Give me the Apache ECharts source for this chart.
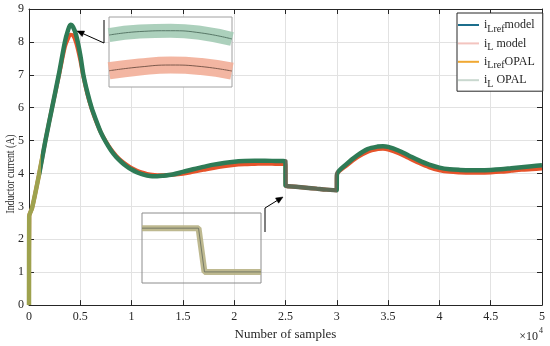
<!DOCTYPE html>
<html><head><meta charset="utf-8">
<style>html,body{margin:0;padding:0;background:#fff}#c{width:550px;height:346px}</style>
<script src="https://cdn.jsdelivr.net/npm/echarts@6/dist/echarts.min.js"></script>
</head><body><div id="c"></div>
<script>
// ---- data ----
const samples = [0,20,300,1000,1600,2250,2900,3500,3800,4050,
  4300,4600,5000,5300,5700,6100,6500,7000,7500,8000,
  8500,9000,9500,10000,10500,11000,11500,12000,12500,13000,
  14000,15000,16000,17000,18000,19000,20000,21000,22000,23000,
  24000,24990,25010,26000,27000,28000,29000,29990,30010,31000,
  32000,33000,34000,34500,35000,36000,37000,38000,39000,40000,
  41000,42000,43000,44000,45000,46000,47000,48000,49000,50000];
const upperCurve = [0,2.7,2.95,4.0,5.0,6.0,7.0,8.0,8.35,8.52,
  8.45,8.2,7.6,7.0,6.45,6.0,5.65,5.25,4.95,4.7,
  4.5,4.35,4.22,4.12,4.04,3.98,3.94,3.92,3.92,3.93,
  3.97,4.05,4.13,4.2,4.27,4.32,4.36,4.38,4.39,4.39,
  4.38,4.37,3.63,3.6,3.57,3.54,3.51,3.49,3.97,4.3,
  4.55,4.74,4.82,4.83,4.81,4.7,4.55,4.4,4.27,4.18,
  4.13,4.11,4.1,4.1,4.11,4.13,4.16,4.19,4.22,4.25];
const lowerCurve = [0,2.7,2.95,4.0,5.0,6.0,6.95,7.85,8.1,8.22,
  8.2,7.97,7.45,6.95,6.4,5.97,5.62,5.25,4.97,4.73,
  4.54,4.39,4.27,4.17,4.09,4.03,3.99,3.96,3.95,3.95,
  3.96,3.99,4.05,4.11,4.17,4.22,4.26,4.28,4.29,4.3,
  4.29,4.28,3.63,3.6,3.57,3.54,3.51,3.49,3.95,4.25,
  4.49,4.66,4.74,4.75,4.73,4.62,4.47,4.32,4.19,4.1,
  4.05,4.03,4.02,4.02,4.03,4.05,4.08,4.11,4.13,4.15];
const inset1Samples = [3950,4025,4100,4175,4250];
const inset1Upper = [8.421,8.446,8.452,8.436,8.393];
const inset1Lower = [8.166,8.193,8.207,8.196,8.164];
const inset2Samples = [24900,24995,25005,25100];
const inset2Values = [4.34,4.34,3.59,3.59];
const xTicks = {min:0, max:50000, interval:5000};
const yTicks = {min:0, max:9, interval:1};
const legendNames = ['iLref model','iL model','iLref OPAL','iL OPAL'];

const zip = (xs, ys) => xs.map((x,i) => [x, ys[i]]);
const F = "'Liberation Serif','Times New Roman',serif";
const AX = '#262626';

const chart = echarts.init(document.getElementById('c'), null, {renderer:'canvas'});

const mainX = {
  type:'value', gridIndex:0, min:xTicks.min, max:xTicks.max, interval:xTicks.interval,
  axisLine:{show:true, onZero:false, lineStyle:{color:AX, width:1}},
  axisTick:{show:true, inside:true, length:5, lineStyle:{color:AX}},
  axisLabel:{color:AX, fontFamily:F, fontSize:12, margin:6, formatter:v => String(v/10000)},
  splitLine:{show:true, lineStyle:{color:'#e2e2e2', width:1}},
  name:'Number of samples', nameLocation:'middle', nameGap:21,
  nameTextStyle:{color:AX, fontFamily:F, fontSize:13}
};
const topX = {
  type:'value', gridIndex:0, position:'top', min:xTicks.min, max:xTicks.max, interval:xTicks.interval,
  axisLine:{show:true, onZero:false, lineStyle:{color:AX, width:1}},
  axisTick:{show:true, inside:true, length:5, lineStyle:{color:AX}},
  axisLabel:{show:false}, splitLine:{show:false}
};
const mainY = {
  type:'value', gridIndex:0, min:yTicks.min, max:yTicks.max, interval:yTicks.interval,
  axisLine:{show:true, onZero:false, lineStyle:{color:AX, width:1}},
  axisTick:{show:true, inside:true, length:5, lineStyle:{color:AX}},
  axisLabel:{color:AX, fontFamily:F, fontSize:12, margin:5},
  splitLine:{show:true, lineStyle:{color:'#e2e2e2', width:1}}
};
const rightY = {
  type:'value', gridIndex:0, position:'right', min:yTicks.min, max:yTicks.max, interval:yTicks.interval,
  axisLine:{show:true, onZero:false, lineStyle:{color:AX, width:1}},
  axisTick:{show:true, inside:true, length:5, lineStyle:{color:AX}},
  axisLabel:{show:false}, splitLine:{show:false}
};
const hidden = (gi, min, max) => ({type:'value', gridIndex:gi, min, max, show:false,
  axisLine:{show:false}, axisTick:{show:false}, axisLabel:{show:false}, splitLine:{show:false}});

const lineBase = {type:'line', showSymbol:false, symbol:'none', smooth:0.3, animation:false, sampling:null};

const rich = {
  i:{fontFamily:F, fontSize:12, lineHeight:16, color:AX},
  t:{fontFamily:F, fontSize:12, lineHeight:16, color:AX},
  s:{fontFamily:F, fontSize:10, lineHeight:10, padding:[8,0,0,0], color:AX}
};
const fmt = {
  'iLref model':'{i|i}{s|Lref}{t|model}',
  'iL model':'{i|i}{s|L}{t| model}',
  'iLref OPAL':'{i|i}{s|Lref}{t|OPAL}',
  'iL OPAL':'{i|i}{s|L}{t| OPAL}'
};
const legendColors = ['#1c6e8c','#f3c4bf','#f0a832','#c9d8cf'];

function arrow(pts, tip, base1, base2){
  return [
    {type:'polyline', shape:{points:pts}, style:{stroke:'#000', lineWidth:1, fill:null}, z:20},
    {type:'polygon', shape:{points:[tip, base1, base2]}, style:{fill:'#000', stroke:'#000', lineWidth:0.5}, z:20}
  ];
}

const option = {
  animation:false,
  backgroundColor:'#fff',
  grid:[
    {left:29, right:8, top:9, bottom:40, show:false},
    {left:109, top:17, width:123, height:70, show:true, backgroundColor:'#fff', borderColor:'#a0a0a0', borderWidth:1, z:3},
    {left:142, top:213, width:119, height:70, show:true, backgroundColor:'transparent', borderColor:'#8c8c8c', borderWidth:1, z:3}
  ],
  xAxis:[mainX, topX, hidden(1, inset1Samples[0], inset1Samples[inset1Samples.length-1]), hidden(2, inset2Samples[0], inset2Samples[inset2Samples.length-1])],
  yAxis:[mainY, rightY, hidden(1, 8.05, 8.55), hidden(2, 3.4, 4.6)],
  visualMap:{
    type:'piecewise', show:false, dimension:0, seriesIndex:3,
    pieces:[
      {lt:1200, color:'#9ea24e'},
      {gte:1200, lt:25000, color:'#2e7b56'},
      {gte:25000, lte:30000, color:'#5e6a55'},
      {gt:30000, color:'#2e7b56'}
    ]
  },
  legend:{
    orient:'vertical', left:457, top:13, padding:[3,8,2,1], itemGap:0.4,
    itemWidth:21, itemHeight:2, icon:'rect',
    backgroundColor:'#fff', borderColor:AX, borderWidth:1, borderRadius:0,
    selectedMode:false,
    textStyle:{fontFamily:F, fontSize:12, color:AX, rich:rich},
    formatter:name => fmt[name],
    data:legendNames.map((n,i) => ({name:n, icon:'rect', itemStyle:{color:legendColors[i]}, lineStyle:{color:legendColors[i]}}))
  },
  series:[
    Object.assign({}, lineBase, {name:'iLref model', data:zip(samples, lowerCurve), lineStyle:{width:1, color:'#1c6e8c'}, itemStyle:{color:'#1c6e8c'}, z:1}),
    Object.assign({}, lineBase, {name:'iLref OPAL', data:zip(samples, upperCurve), lineStyle:{width:1, color:'#f0a832'}, itemStyle:{color:'#f0a832'}, z:1}),
    Object.assign({}, lineBase, {name:'iL model', data:zip(samples, lowerCurve), lineStyle:{width:4, color:'#e6532a', join:'round'}, itemStyle:{color:'#e6532a'}, z:2}),
    Object.assign({}, lineBase, {name:'iL OPAL', data:zip(samples, upperCurve), lineStyle:{width:4.5, join:'round'}, z:3}),
    // inset 1 (zoom on the peak)
    Object.assign({}, lineBase, {name:'iL OPAL', xAxisIndex:2, yAxisIndex:2, smooth:true, data:zip(inset1Samples, inset1Upper), lineStyle:{width:14, color:'#a3cbb5', opacity:0.9}, itemStyle:{color:'#a3cbb5'}, z:5}),
    Object.assign({}, lineBase, {name:'iLref OPAL', xAxisIndex:2, yAxisIndex:2, smooth:true, data:zip(inset1Samples, inset1Upper), lineStyle:{width:1, color:'#587868'}, itemStyle:{color:'#587868'}, z:6}),
    Object.assign({}, lineBase, {name:'iL model', xAxisIndex:2, yAxisIndex:2, smooth:true, data:zip(inset1Samples, inset1Lower), lineStyle:{width:17, color:'#f2ae98', opacity:0.9}, itemStyle:{color:'#f2ae98'}, z:5}),
    Object.assign({}, lineBase, {name:'iLref model', xAxisIndex:2, yAxisIndex:2, smooth:true, data:zip(inset1Samples, inset1Lower), lineStyle:{width:1, color:'#7d5a4c'}, itemStyle:{color:'#7d5a4c'}, z:6}),
    // inset 2 (zoom on the step)
    Object.assign({}, lineBase, {name:'iL OPAL', xAxisIndex:3, yAxisIndex:3, smooth:false, data:zip(inset2Samples, inset2Values), lineStyle:{width:6, color:'#b7b184', opacity:0.9}, itemStyle:{color:'#b7b184'}, z:5}),
    Object.assign({}, lineBase, {name:'iLref OPAL', xAxisIndex:3, yAxisIndex:3, smooth:false, data:zip(inset2Samples, inset2Values), lineStyle:{width:1, color:'#767a66'}, itemStyle:{color:'#767a66'}, z:6})
  ],
  graphic:[
    {type:'text', x:11, y:174, rotation:Math.PI/2, scaleX:0.75, z:20,
      style:{text:'Inductor current (A)', fontFamily:F, fontSize:13, fill:AX, align:'center', verticalAlign:'middle', textAlign:'center', textVerticalAlign:'middle'}},
    {type:'text', x:538, y:337, z:20,
      style:{text:'\u00d710', fontFamily:F, fontSize:12, fill:AX, align:'right', verticalAlign:'middle', textAlign:'right', textVerticalAlign:'middle'}},
    {type:'text', x:539, y:331, z:20,
      style:{text:'4', fontFamily:F, fontSize:8, fill:AX, align:'left', verticalAlign:'middle', textAlign:'left', textVerticalAlign:'middle'}}
  ].concat(
    arrow([[104,20],[104,43],[83.4,33.8]], [77,31], [84.6,31.1], [82.2,36.6]),
    arrow([[265,232],[265,208],[277,200.6]], [283,197], [278.6,203.2], [275.5,198.1])
  )
};
chart.setOption(option);
</script>
</body></html>
